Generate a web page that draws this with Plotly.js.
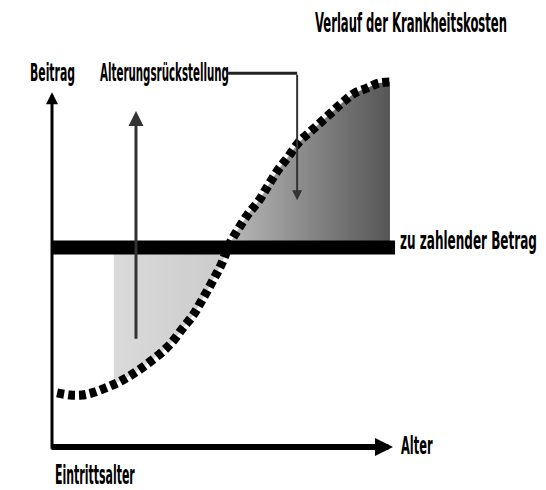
<!DOCTYPE html>
<html><head><meta charset="utf-8">
<script src="https://cdn.plot.ly/plotly-3.0.1.min.js"></script>
<style>html,body{margin:0;padding:0;background:#fff}#c{width:546px;height:490px}</style>
</head><body><div id="c"></div>
<script>
// Verlauf der Krankheitskosten (Alter -> Kosten), schematic units 0..100
const curveAge  = [1.5, 5.3, 8.8, 11.8, 15.6, 19.1, 22.4, 25.6, 28.8, 32.4, 35.3, 38.5, 41.5, 44.1, 47.1, 49.7, 52.4, 55.0, 57.9, 60.6, 63.5, 66.5, 69.4, 72.6, 75.9, 79.1, 82.4, 85.6, 89.1, 92.6, 96.2, 99.4];
const curveCost = [15.1, 14.5, 14.5, 15.1, 16.4, 17.8, 19.5, 21.4, 23.6, 26.3, 29.0, 32.9, 36.4, 40.5, 45.5, 50.1, 56.2, 60.3, 64.4, 67.4, 71.8, 76.2, 79.7, 83.8, 86.6, 89.3, 92.1, 94.8, 97.3, 98.6, 100.0, 100.3];
// zu zahlender Betrag (konstant)
const premiumLevel = 54.9;
const premiumAge = [0.3, 100.9];
// Alterungsrückstellung: Beginn der Schattierung und Pfeil
const reserveStartAge = 18.2;
const reserveArrowAge = 24.7;
const reserveArrowCost = [29.5, 92.3];
const shadeEndAge = 99.4;
// Labels
const labels = {
  title: "Verlauf der Krankheitskosten",
  yLabel: "Beitrag",
  reserve: "Alterungsrückstellung",
  premium: "zu zahlender Betrag",
  xLabel: "Alter",
  entry: "Eintrittsalter"
};

function costAt(a) {
  for (let i = 1; i < curveAge.length; i++) {
    if (a <= curveAge[i]) {
      const t = (a - curveAge[i-1]) / (curveAge[i] - curveAge[i-1]);
      return curveCost[i-1] + t * (curveCost[i] - curveCost[i-1]);
    }
  }
  return curveCost[curveCost.length - 1];
}
function crossing() {
  for (let i = 1; i < curveAge.length; i++) {
    if (curveCost[i-1] < premiumLevel && curveCost[i] >= premiumLevel) {
      const t = (premiumLevel - curveCost[i-1]) / (curveCost[i] - curveCost[i-1]);
      return curveAge[i-1] + t * (curveAge[i] - curveAge[i-1]);
    }
  }
  return 50;
}
const xc = crossing();

// light region (below premium)
const lx = [reserveStartAge, xc], ly = [premiumLevel, premiumLevel];
for (let i = curveAge.length - 1; i >= 0; i--) {
  if (curveAge[i] < xc && curveAge[i] > reserveStartAge) { lx.push(curveAge[i]); ly.push(curveCost[i]); }
}
lx.push(reserveStartAge); ly.push(costAt(reserveStartAge));
lx.push(reserveStartAge); ly.push(premiumLevel);

// dark region (above premium)
const dx = [xc], dy = [premiumLevel];
for (let i = 0; i < curveAge.length; i++) {
  if (curveAge[i] > xc && curveAge[i] <= shadeEndAge) { dx.push(curveAge[i]); dy.push(curveCost[i]); }
}
dx.push(shadeEndAge); dy.push(premiumLevel);
dx.push(xc); dy.push(premiumLevel);

const traces = [
  {x: lx, y: ly, mode: 'lines', line: {width: 0}, fill: 'toself',
   fillgradient: {type: 'horizontal', colorscale: [[0, '#dadada'], [1, '#cbcbcb']]}, hoverinfo: 'skip'},
  {x: dx, y: dy, mode: 'lines', line: {width: 0}, fill: 'toself',
   fillgradient: {type: 'horizontal', colorscale: [[0, '#bababa'], [0.45, '#8c8c8c'], [1, '#565656']]}, hoverinfo: 'skip'},
  {x: premiumAge, y: [premiumLevel, premiumLevel], mode: 'lines', line: {color: '#000', width: 14}, hoverinfo: 'skip'},
  {x: curveAge, y: curveCost, mode: 'lines', line: {color: '#000', width: 9, dash: '7px,4px', shape: 'spline'}, hoverinfo: 'skip'},
  {x: [51.8, 72.1], y: [102.7, 102.7], mode: 'lines', line: {color: '#222', width: 3}, hoverinfo: 'skip'}
];

const fam = '"DejaVu Sans Condensed", "DejaVu Sans", sans-serif';
const fnt = (s) => ({family: fam, size: s, color: '#000', weight: 'bold'});
const ann = [
  {x: 0, y: 97.5, ax: 0, ay: -0.6, xref: 'x', yref: 'y', axref: 'x', ayref: 'y', text: '', showarrow: true, arrowhead: 2, arrowsize: 0.8, arrowwidth: 3, arrowcolor: '#000'},
  {x: 100.3, y: 0.27, ax: -0.6, ay: 0.27, xref: 'x', yref: 'y', axref: 'x', ayref: 'y', text: '', showarrow: true, arrowhead: 2, arrowsize: 0.6, arrowwidth: 6, arrowcolor: '#000'},
  {x: reserveArrowAge, y: reserveArrowCost[1], ax: reserveArrowAge, ay: reserveArrowCost[0], xref: 'x', yref: 'y', axref: 'x', ayref: 'y', text: '', showarrow: true, arrowhead: 2, arrowsize: 1.0, arrowwidth: 3, arrowcolor: '#333'},
  {x: 72.1, y: 67.9, ax: 72.1, ay: 102.7, xref: 'x', yref: 'y', axref: 'x', ayref: 'y', text: '', showarrow: true, arrowhead: 2, arrowsize: 1, arrowwidth: 2, arrowcolor: '#333'},
  {x: 76.8, y: 116.4, xref: 'x', yref: 'y', text: labels.title, showarrow: false, xanchor: 'left', yanchor: 'middle', font: fnt(26)},
  {x: -7.1, y: 102.7, xref: 'x', yref: 'y', text: labels.yLabel, showarrow: false, xanchor: 'left', yanchor: 'middle', font: fnt(24)},
  {x: 13.5, y: 102.7, xref: 'x', yref: 'y', text: labels.reserve, showarrow: false, xanchor: 'left', yanchor: 'middle', font: fnt(24)},
  {x: 101.8, y: 56.7, xref: 'x', yref: 'y', text: labels.premium, showarrow: false, xanchor: 'left', yanchor: 'middle', font: fnt(24)},
  {x: 102.1, y: 0.8, xref: 'x', yref: 'y', text: labels.xLabel, showarrow: false, xanchor: 'left', yanchor: 'middle', font: fnt(25)},
  {x: 0.3, y: -7.4, xref: 'x', yref: 'y', text: labels.entry, showarrow: false, xanchor: 'left', yanchor: 'middle', font: fnt(26)}
];
// condensed lettering: target pixel widths of the label annotations (index -> width)
const labelWidths = {4: 192, 5: 45, 6: 129, 7: 137, 8: 32, 9: 80};

const layout = {
  width: 546, height: 490,
  margin: {l: 0, r: 0, t: 0, b: 0},
  paper_bgcolor: '#fff', plot_bgcolor: '#fff',
  showlegend: false,
  xaxis: {range: [-52/3.4, (546-52)/3.4], visible: false, fixedrange: true},
  yaxis: {range: [(448-490)/3.65, 448/3.65], visible: false, fixedrange: true},
  annotations: ann
};
Plotly.newPlot('c', traces, layout, {staticPlot: true}).then(gd => {
  gd.querySelectorAll('g.annotation').forEach(g => {
    const idx = +g.getAttribute('data-index');
    const w = labelWidths[idx];
    if (!w) return;
    const t = g.querySelector('text.annotation-text');
    if (!t) return;
    const bb = t.getBBox();
    if (!bb.width) return;
    const sx = w / bb.width;
    t.setAttribute('transform', 'translate(' + (bb.x * (1 - sx)) + ',0) scale(' + sx + ',1)');
  });
});
</script></body></html>
